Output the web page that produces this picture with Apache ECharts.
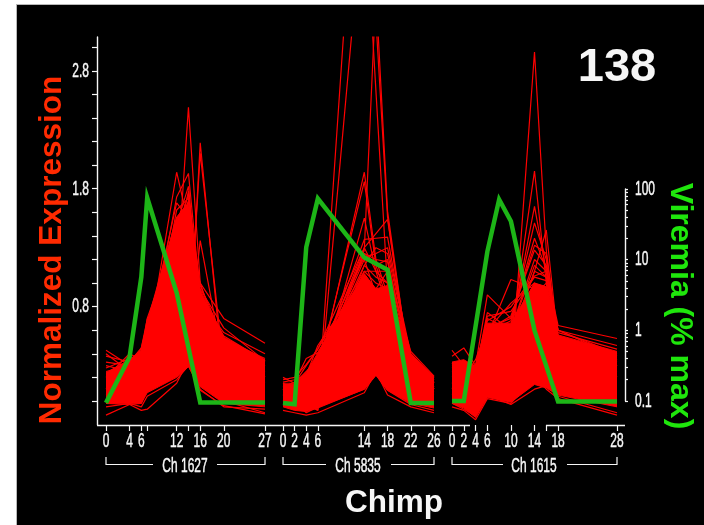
<!DOCTYPE html>
<html>
<head>
<meta charset="utf-8">
<style>html,body{margin:0;padding:0;background:#fff}#c{width:704px;height:525px}</style>
<script src="https://cdn.jsdelivr.net/npm/echarts@6/dist/echarts.min.js"></script>
</head>
<body>
<div id="c"></div>
<script>
// ---------- Ch 1627 ----------
var days1627 = [0,4,6,7,12,14,16,20,27];
var ticks1627 = [0,4,6,7,12,14,16,20,27];
var labels1627 = [0,4,6,12,16,20,27];
var high1627 = [.24,.35,.43,.67,1.56,1.68,.94,.54,.35];
var low1627 = [-.02,-.02,-.02,.07,.20,.29,.12,-.02,-.05];
var lines1627 = [
 [.15,.2,.25,.4,1.0,2.49,1.0,.4,.2],
 [.1,.2,.2,.45,1.94,1.5,.8,.3,.2],
 [.1,.15,.3,.4,1.73,1.93,.9,.3,.2],
 [.1,.15,.2,.25,.5,.35,2.19,.15,.1],
 [.15,.2,.25,.3,.6,.45,2.1,.28,.15],
 [.1,.12,.2,.3,.5,.45,1.36,.3,.2],
 [.43,.3,.42,.5,1,1.3,1.0,.7,.49],
 [.4,.25,.3,.6,1,1.2,.95,.62,.34],
 [.38,.33,.45,.69,1.1,1.4,.9,.55,.34],
 [-.12,-.03,-.02,.1,.4,.5,.2,.0,-.1],
 [-.02,-.03,-.08,-.07,.15,.35,.1,-.05,-.07],
 [.3,.25,.45,.65,1.5,1.82,.8,.45,.3],
 [.05,.1,.1,.3,1.62,1.72,.7,.4,.25],
 [-.05,-.02,-.05,.04,.18,.3,.09,-.04,-.11],
 [.2,.4,.35,.6,1.45,1.75,.85,.58,.4],
 [.25,.3,.38,.6,1.55,1.62,.9,.5,.33],
 [.28,.36,.4,.7,1.4,1.7,.98,.52,.36],
 [.33,.3,.4,.55,1.68,1.55,.75,.45,.3],
 [.0,.1,.15,.2,1.3,1.78,.6,.3,.2]
];
var vireDays1627 = [0,4,6,7,12,16,20,27];
var vire1627 = [0.094,0.42,5.7,75,3.4,0.095,0.095,0.095];

// ---------- Ch 5835 ----------
var days5835 = [0,2,4,6,14,16,18,22,26];
var ticks5835 = [0,2,4,6,14,18,22,26];
var labels5835 = [0,2,4,6,14,18,22,26];
var high5835 = [.14,.14,.24,.41,1.08,.95,.98,.39,.2];
var low5835 = [-.05,-.08,-.09,-.06,.10,.22,.09,-.02,-.06];
var lines5835 = [
 [.05,.0,-.03,-.08,4.3,2.63,.96,.1,.05],
 [.02,.02,.0,-.08,5.68,3.23,1.56,.15,.1],
 [.1,.05,.1,.2,1.28,3.47,1.61,.2,.1],
 [.1,.08,.1,.2,1.94,1.2,.9,.2,.1],
 [.08,.1,.12,.25,1.86,1.15,.85,.25,.12],
 [.05,.05,.1,.15,1.55,1.1,.8,.3,.15],
 [.15,.1,.2,.3,1.37,1.38,1.39,.3,.15],
 [.1,.1,.15,.3,1.3,1.42,1.54,.25,.1],
 [.2,.15,.25,.35,1.25,1.2,1.18,.35,.15],
 [.0,-.02,.05,.1,1.15,1.05,1.0,.3,.12],
 [.18,.2,.31,.44,1.1,1.0,.95,.4,.18],
 [.12,.16,.36,.41,1.05,.95,1.1,.33,.16],
 [.02,.0,-.1,-.05,.1,.22,.09,-.03,-.08],
 [-.08,-.1,-.12,-.1,.07,.25,.05,-.05,-.1],
 [.06,.05,.2,.3,1.2,.9,.7,.2,.08],
 [.15,.15,.3,.44,1.3,1.1,1.0,.35,.2],
 [.12,.12,.2,.38,1.22,1.25,1.3,.4,.2],
 [.1,.05,.15,.25,1.25,1.15,1.2,.3,.1],
 [.05,.08,.1,.3,1.15,1.3,1.25,.38,.2],
 [.16,.18,.22,.47,1.05,.9,.8,.25,.1],
 [.0,.05,.1,.2,1.1,1.1,1.1,.42,.21]
];
var vireDays5835 = [0,2,4,6,14,18,22,26];
var vire5835 = [0.094,0.09,15,73,10.7,7.2,0.094,0.094];

// ---------- Ch 1615 ----------
var days1615 = [0,2,4,6,10,14,16,18,28];
var ticks1615 = [0,2,4,6,10,14,16,18,28];
var labels1615 = [0,2,4,6,10,14,18,28];
var high1615 = [.33,.35,.29,.66,.66,1.0,.97,.56,.42];
var low1615 = [-.02,-.06,-.14,.03,-.01,.14,.11,.05,-.05];
var lines1615 = [
 [.1,.12,.15,.3,.2,2.96,1.28,.5,.2],
 [.15,.1,.2,.35,.55,1.95,1.0,.35,.2],
 [.2,.2,.25,.4,.6,1.65,1.1,.45,.2],
 [.1,.15,.2,.45,.65,1.51,1.2,.4,.25],
 [.43,.3,.2,.4,.5,1.1,1.45,.5,.3],
 [.38,.45,.3,.9,.7,.9,1.0,.55,.3],
 [.3,.25,.3,.55,1.03,.95,.9,.5,.35],
 [.25,.3,.25,.75,.6,1.0,.9,.45,.3],
 [.2,.2,.35,.6,.83,1.0,.95,.55,.35],
 [.05,.1,.2,.7,.6,1.2,1.1,.64,.53],
 [.3,.3,.25,.5,.6,1.15,1.05,.6,.47],
 [-.02,-.07,-.13,.05,-.03,.1,.13,.04,-.1],
 [-.05,-.08,-.16,.02,-.02,.2,.1,.02,-.12],
 [.15,.2,.28,.62,.7,1.32,1.25,.5,.3],
 [.12,.1,.22,.5,.55,1.1,1.05,.6,.38],
 [.2,.25,.2,.6,.72,1.28,1.15,.55,.33],
 [.28,.33,.3,.68,.8,1.06,1.1,.6,.4],
 [.32,.2,.25,.72,.76,1.05,1.02,.58,.44],
 [.1,.15,.28,.58,.68,1.38,1.12,.48,.36]
];
var vireDays1615 = [0,2,6,8,10,14,18,28];
var vire1615 = [0.1,0.1,13,71,35,1.0,0.098,0.098];

// ---------- axes ----------
var leftTicks = [0,.2,.4,.6,.8,1,1.2,1.4,1.6,1.8,2,2.2,2.4,2.6,2.8,3];
var leftLabels = ['0.8','1.8','2.8'];
var rightTicks = [.1,.2,.3,.4,.5,.6,.7,.8,.9,1,2,3,4,5,6,7,8,9,10,20,30,40,50,60,70,80,90,100];
var rightLabels = ['0.1','1','10','100'];

var WHITE = '#f6f6f6', RED = '#ff0000', GREEN = '#1db517';
var SANS = '"Liberation Sans",Arial,sans-serif';
var TICKFONT = '21px '+SANS, SQUEEZE = 0.57;

var panels = [
 {d:days1627,t:ticks1627,l:labels1627,hi:high1627,lo:low1627,ln:lines1627,vd:vireDays1627,v:vire1627,left:106,width:159,max:27},
 {d:days5835,t:ticks5835,l:labels5835,hi:high5835,lo:low5835,ln:lines5835,vd:vireDays5835,v:vire5835,left:283,width:151,max:26},
 {d:days1615,t:ticks1615,l:labels1615,hi:high1615,lo:low1615,ln:lines1615,vd:vireDays1615,v:vire1615,left:452,width:165,max:28}
];

var grid=[], xAxis=[], yAxis=[], series=[];
panels.forEach(function(p,i){
  var g=i*2, gv=i*2+1;
  grid.push({left:p.left,width:p.width,top:37,height:388});
  grid.push({left:p.left,width:p.width,top:189,height:212});
  xAxis.push({type:'value',gridIndex:g,min:0,max:p.max,splitLine:{show:false},
    axisLine:{show:false,onZero:false},
    axisTick:{show:true,customValues:p.t,length:6,lineStyle:{color:WHITE,width:1.2}},
    axisLabel:{show:false}});
  xAxis.push({type:'value',gridIndex:gv,min:0,max:p.max,show:false,axisLine:{onZero:false}});
  yAxis.push({type:'value',gridIndex:g,min:-0.204,max:3.087,show:i===0,position:'left',offset:9,
    splitLine:{show:false},
    axisLine:{show:true,onZero:false,lineStyle:{color:WHITE,width:1.4}},
    axisTick:{show:true,customValues:leftTicks,length:5,lineStyle:{color:WHITE,width:1.2}},
    axisLabel:{show:false}});
  yAxis.push({type:'log',logBase:10,gridIndex:gv,min:0.1,max:100,show:i===2,position:'right',offset:8,
    splitLine:{show:false},
    axisLine:{show:true,onZero:false,lineStyle:{color:WHITE,width:1.4}},
    axisTick:{show:true,customValues:rightTicks,inside:false,length:3,lineStyle:{color:WHITE,width:1.2}},
    axisLabel:{show:false}});

  // dense mass of expression traces: polygon between lower and upper edge
  series.push({type:'custom',xAxisIndex:g,yAxisIndex:g,silent:true,z:3,clip:true,
    encode:{x:0,y:[1,2]},
    data:p.d.map(function(x,k){return [x,p.lo[k],p.hi[k]];}),
    renderItem:function(params,api){
      if(params.dataIndex!==0) return null;
      var up=[],dn=[];
      for(var k=0;k<p.d.length;k++){
        up.push(api.coord([p.d[k],p.hi[k]]));
        dn.unshift(api.coord([p.d[k],p.lo[k]]));
      }
      return {type:'polygon',shape:{points:up.concat(dn)},style:{fill:RED,stroke:RED,lineWidth:1}};
    }});
  // individual traces that stand out from the mass
  p.ln.forEach(function(row){
    series.push({type:'line',xAxisIndex:g,yAxisIndex:g,symbol:'none',silent:true,clip:true,
      lineStyle:{color:RED,width:1.2},z:4,
      data:p.d.map(function(x,k){return [x,row[k]];})});
  });
  // viremia
  series.push({type:'line',xAxisIndex:gv,yAxisIndex:gv,symbol:'none',silent:true,clip:false,
    lineStyle:{color:GREEN,width:4.5,join:'miter'},z:8,
    data:p.vd.map(function(x,k){return [x,p.v[k]];})});
});

function seg(x1,y1,x2,y2,w){
  return {type:'line',silent:true,z:5,shape:{x1:x1,y1:y1,x2:x2,y2:y2},style:{stroke:WHITE,lineWidth:w||1.4}};
}
function bracket(a,b,c,d){
  return [seg(a,464.5,b,464.5,1.2),seg(c,464.5,d,464.5,1.2),seg(a,457,a,465,1.2),seg(d,457,d,465,1.2)];
}
function txt(t,x,y,font,fill,rot){
  return {type:'text',silent:true,z:6,x:x,y:y,rotation:rot||0,
    style:{text:t,font:font,fill:fill,textAlign:'center',textVerticalAlign:'middle'}};
}
function narrow(t,x,y,align){
  return {type:'text',silent:true,z:6,x:x,y:y,scaleX:SQUEEZE,
    style:{text:t,font:TICKFONT,fill:WHITE,stroke:WHITE,lineWidth:0.5,textAlign:align||'center',textVerticalAlign:'middle'}};
}
var graphic=[
  {type:'rect',silent:true,z:-10,shape:{x:16,y:4,width:688,height:521},style:{fill:'#b8b8b8'}},
  {type:'rect',silent:true,z:-9,shape:{x:17,y:5,width:687,height:520},style:{fill:'#000'}},
  seg(97,425.5,470,425.5,1.5),
  seg(546,425.5,625,425.5,1.5)
].concat(bracket(106,153,217,265),bracket(283,326,391,434),bracket(452,503,567,617),[
  narrow('Ch 1627',185,466),
  narrow('Ch 5835',358,466),
  narrow('Ch 1615',534,466),
  txt('Chimp',394,503,'bold 31.5px '+SANS,WHITE),
  txt('138',617,68,'bold 47px '+SANS,WHITE),
  txt('Normalized Expression',52,250,'bold 31.5px '+SANS,'#ff2a00',Math.PI/2),
  txt('Viremia (% max)',680,306,'bold 32px '+SANS,'#1fe60c',-Math.PI/2)
]);

var chart=echarts.init(document.getElementById('c'),null,{renderer:'canvas'});
chart.setOption({backgroundColor:'#fff',animation:false,grid:grid,xAxis:xAxis,yAxis:yAxis,series:series,graphic:graphic,tooltip:{show:false},legend:{show:false}});

// condensed tick labels placed through the axes' own scales
panels.forEach(function(p,i){
  p.l.forEach(function(v){
    var pt=chart.convertToPixel({gridIndex:i*2},[v,0]);
    graphic.push(narrow(String(v),pt[0],441));
  });
});
leftLabels.forEach(function(s){
  var pt=chart.convertToPixel({gridIndex:0},[0,parseFloat(s)]);
  graphic.push(narrow(s,89,pt[1],'right'));
});
rightLabels.forEach(function(s){
  var pt=chart.convertToPixel({gridIndex:5},[0,parseFloat(s)]);
  graphic.push(narrow(s,635,pt[1],'left'));
});
chart.setOption({graphic:graphic});
</script>
</body>
</html>
